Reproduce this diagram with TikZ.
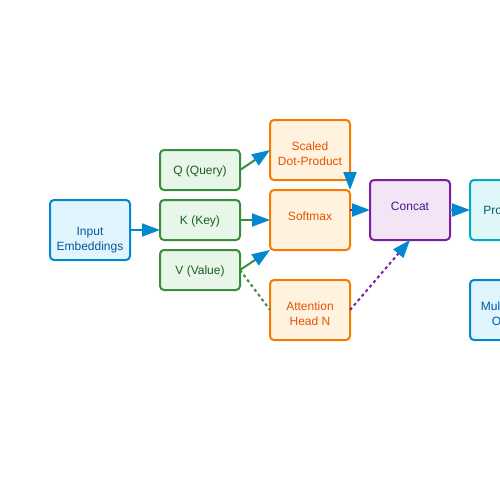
\documentclass[tikz,border=0pt]{standalone}
\usepackage{fontspec}
\setmainfont{Liberation Sans}
\usetikzlibrary{positioning, arrows.meta}
\definecolor{embfill}{HTML}{E1F5FE}
\definecolor{embline}{HTML}{0288D1}
\definecolor{embtext}{HTML}{01579B}
\definecolor{qkvfill}{HTML}{E8F5E9}
\definecolor{qkvline}{HTML}{388E3C}
\definecolor{qkvtext}{HTML}{1B5E20}
\definecolor{headfill}{HTML}{FFF3E0}
\definecolor{headline}{HTML}{F57C00}
\definecolor{headtext}{HTML}{E65100}
\definecolor{catfill}{HTML}{F3E5F5}
\definecolor{catline}{HTML}{7B1FA2}
\definecolor{cattext}{HTML}{4A148C}
\definecolor{projfill}{HTML}{E0F7FA}
\definecolor{projline}{HTML}{00ACC1}
\definecolor{projtext}{HTML}{006064}
\definecolor{tipblue}{HTML}{0288D1}

\begin{document}
\begin{tikzpicture}[
        box/.style={draw, line width=2pt, rounded corners=4pt, minimum width=80pt, inner sep=0pt, outer sep=0pt},
        embed/.style={box, minimum height=60pt, fill=embfill, draw=embline},
        qkv/.style={box, minimum height=40pt, fill=qkvfill, draw=qkvline},
        attn/.style={box, minimum height=60pt, fill=headfill, draw=headline},
        concat/.style={box, minimum height=60pt, fill=catfill, draw=catline},
        proj/.style={box, minimum height=60pt, fill=projfill, draw=projline},
        flow/.style={line width=2pt, -{Triangle[length=18pt, width=13pt, color=tipblue, fill=tipblue]}},
        dashline/.style={line width=2pt, dash pattern=on 3pt off 3pt},
        every label/.style={font=\fontsize{12}{15}\selectfont, align=center, inner sep=0pt},
    ]
    \useasboundingbox (0,0) rectangle (500pt,-500pt);
    \node[embed, label={[text=embtext, yshift=-10pt]center:Input\\Embeddings}] (inp) at (90pt,-230pt) {};
    \node[qkv, label={[text=qkvtext, yshift=-1pt]center:K (Key)}] (k) at (200pt,-220pt) {};
    \node[qkv, above=10pt of k, label={[text=qkvtext, yshift=-1.5pt]center:Q (Query)}] (q) {};
    \node[qkv, below=10pt of k, label={[text=qkvtext, yshift=-1.5pt]center:V (Value)}] (v) {};
    \node[attn, right=30pt of k, label={[text=headtext, yshift=4pt]center:Softmax}] (softmax) {};
    \node[attn, above=10pt of softmax, label={[text=headtext, yshift=-3.5pt]center:Scaled\\Dot-Product}] (scaled) {};
    \node[attn, below=30pt of softmax, label={[text=headtext, yshift=-4pt]center:Attention\\Head N}] (headn) {};
    \node[concat, right=20pt of softmax, yshift=10pt, label={[text=cattext, yshift=4pt]center:Concat}] (cat) {};
    \node[proj, right=20pt of cat, label={[text=projtext, yshift=-1.5pt]center:Projection}] (proj) {};
    \node[embed, below=40pt of proj, label={[text=embtext, yshift=-4.5pt]center:Multi-Head\\Output}] (out) {};

    \draw[flow, draw=embline] (inp.east) -- (inp.east -| k.west);
    \draw[flow, draw=qkvline] (q.east) -- (scaled.west);
    \draw[flow, draw=qkvline] (k.east) -- (softmax.west);
    \draw[flow, draw=qkvline] (v.east) -- (softmax.south west);
    \draw[dashline, draw=qkvline] (v.east) -- (headn.west);
    \draw[flow, draw=headline] (scaled.south east) -- (softmax.north east);
    \draw[flow, draw=catline] (softmax.east |- cat.west) -- (cat.west);
    \draw[flow, draw=projline] (cat.east) -- (proj.west);
    \draw[flow, dashline, draw=catline] (headn.east) -- (cat.south);
\end{tikzpicture}
\end{document}
